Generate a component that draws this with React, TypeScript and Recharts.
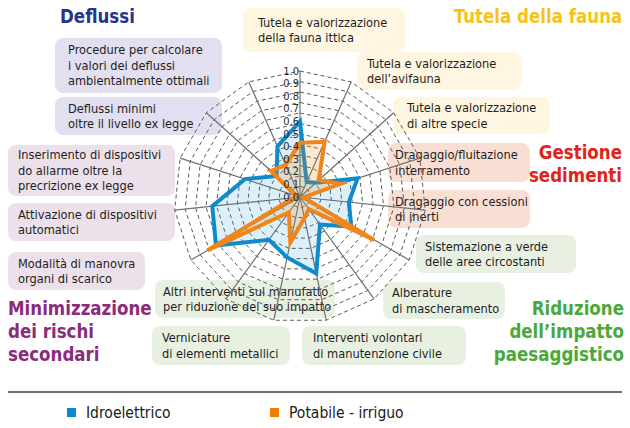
import React from "react";
import { RadarChart, Radar, PolarGrid, PolarAngleAxis, PolarRadiusAxis } from "recharts";

const categories = [
  "Tutela e valorizzazione della fauna ittica",
  "Tutela e valorizzazione dell'avifauna",
  "Tutela e valorizzazione di altre specie",
  "Dragaggio/fluitazione interramento",
  "Dragaggio con cessioni di inerti",
  "Sistemazione a verde delle aree circostanti",
  "Alberature di mascheramento",
  "Interventi volontari di manutenzione civile",
  "Verniciature di elementi metallici",
  "Altri interventi sul manufatto per riduzione del suo impatto",
  "Modalità di manovra organi di scarico",
  "Attivazione di dispositivi automatici",
  "Inserimento di dispositivi do allarme oltre la precrizione ex legge",
  "Deflussi minimi oltre il livello ex legge",
  "Procedure per calcolare i valori dei deflussi ambientalmente ottimali",
];

const idroelettrico = [0.6, 0.13, 0.17, 0.48, 0.39, 0.47, 0.27, 0.62, 0.49, 0.42, 0.77, 0.7, 0.46, 0.25, 0.44];
const potabileIrriguo = [0.43, 0.48, 0.2, 0.34, 0.03, 0.68, 0.12, 0.17, 0.37, 0.15, 0.85, 0.05, 0.04, 0.31, 0.28];

const radiusTicks = [0, 0.1, 0.2, 0.3, 0.4, 0.5, 0.6, 0.7, 0.8, 0.9, 1.0];

const seriesNames = ["Idroelettrico", "Potabile - irriguo"];

const FONT = "'Liberation Sans Narrow', 'DejaVu Sans Condensed', Roboto, sans-serif";
const BLUE = "#0d8bca";
const ORANGE = "#f0851a";

const YELLOW_BOX = "#fef6e0";
const PEACH_BOX = "#f9dfd3";
const GREEN_BOX = "#e8f1e1";
const PINK_BOX = "#ece1ea";
const PURPLE_BOX = "#e2dff0";

// label boxes around the radar (text lines + layout)
const boxes = [
  { lines: ["Tutela e valorizzazione", "della fauna ittica"], x: 243, y: 8, w: 162, h: 44, bg: YELLOW_BOX, pl: 15 },
  { lines: ["Tutela e valorizzazione", "dell\u2019avifauna"], x: 357, y: 52, w: 165, h: 38, bg: YELLOW_BOX, pl: 10 },
  { lines: ["Tutela e valorizzazione", "di altre specie"], x: 393, y: 97, w: 157, h: 37, bg: YELLOW_BOX, pl: 14 },
  { lines: ["Dragaggio/fluitazione", "interramento"], x: 388, y: 143, w: 142, h: 39, bg: PEACH_BOX, pl: 7 },
  { lines: ["Dragaggio con cessioni", "di inerti"], x: 388, y: 190, w: 142, h: 38, bg: PEACH_BOX, pl: 7 },
  { lines: ["Sistemazione a verde", "delle aree circostanti"], x: 416, y: 235, w: 160, h: 38, bg: GREEN_BOX, pl: 9 },
  { lines: ["Alberature", "di mascheramento"], x: 383, y: 282, w: 122, h: 37, bg: GREEN_BOX, pl: 9 },
  { lines: ["Interventi volontari", "di manutenzione civile"], x: 302, y: 326, w: 164, h: 39, bg: GREEN_BOX, pl: 11 },
  { lines: ["Verniciature", "di elementi metallici"], x: 152, y: 326, w: 138, h: 39, bg: GREEN_BOX, pl: 10 },
  { lines: ["Altri interventi sul manufatto", "per riduzione del suo impatto"], x: 155, y: 280, w: 180, h: 38, bg: GREEN_BOX, pl: 8 },
  { lines: ["Modalità di manovra", "organi di scarico"], x: 8, y: 252, w: 137, h: 38, bg: PINK_BOX, pl: 10 },
  { lines: ["Attivazione di dispositivi", "automatici"], x: 8, y: 203, w: 167, h: 38, bg: PINK_BOX, pl: 10 },
  { lines: ["Inserimento di dispositivi", "do allarme oltre la", "precrizione ex legge"], x: 8, y: 145, w: 167, h: 51, bg: PINK_BOX, pl: 10 },
  { lines: ["Deflussi minimi", "oltre il livello ex legge"], x: 55, y: 97, w: 167, h: 38, bg: PURPLE_BOX, pl: 13 },
  { lines: ["Procedure per calcolare", "i valori dei deflussi", "ambientalmente ottimali"], x: 55, y: 38, w: 167, h: 55, bg: PURPLE_BOX, pl: 13 },
];

const titles = [
  { lines: ["Deflussi"], left: 60, top: 5, color: "#27348b", align: "left" },
  { lines: ["Tutela della fauna"], right: 8, top: 5, color: "#f7c31a", align: "right" },
  { lines: ["Gestione", "sedimenti"], right: 8, top: 141, color: "#e2231a", align: "right" },
  { lines: ["Minimizzazione", "dei rischi", "secondari"], left: 8, top: 297, color: "#8b2b79", align: "left" },
  { lines: ["Riduzione", "dell\u2019impatto", "paesaggistico"], right: 6, top: 297, color: "#4ba83a", align: "right" },
];

const data = categories.map((c, i) => ({
  cat: c,
  idro: idroelettrico[i],
  pot: potabileIrriguo[i],
}));

const outerR = 126;
const rings = Array.from({ length: 12 }, (_, i) => ((i + 1) * outerR) / 12);

const RadiusTick = (props: any) => {
  const { x, y, payload } = props;
  return (
    <text x={x - 1} y={y} textAnchor="end" dominantBaseline="central" fontSize={11} fill="#2a2a2a" fontFamily={FONT}>
      {Number(payload.value).toFixed(1)}
    </text>
  );
};

export default function App() {
  return (
    <div style={{ position: "absolute", left: 0, top: 0, width: 630, height: 428, background: "#fff", fontFamily: FONT, overflow: "hidden" }}>
      {boxes.map((b, i) => (
        <div
          key={i}
          style={{
            position: "absolute",
            left: b.x,
            top: b.y,
            width: b.w,
            height: b.h,
            background: b.bg,
            borderRadius: 8,
            paddingLeft: b.pl,
            boxSizing: "border-box",
            display: "flex",
            flexDirection: "column",
            justifyContent: "center",
            fontSize: 12.7,
            lineHeight: "15.5px",
            color: "#1e1e1e",
            whiteSpace: "nowrap",
          }}
        >
          {b.lines.map((l, j) => (
            <div key={j}>{l}</div>
          ))}
        </div>
      ))}

      {titles.map((t, i) => (
        <div
          key={i}
          style={{
            position: "absolute",
            left: t.left,
            right: t.right,
            top: t.top,
            color: t.color,
            fontWeight: 700,
            fontSize: 19.5,
            lineHeight: "23px",
            textAlign: t.align as any,
            whiteSpace: "nowrap",
            transform: "scaleX(0.95)",
            transformOrigin: t.align === "right" ? "right top" : "left top",
          }}
        >
          {t.lines.map((l, j) => (
            <div key={j}>{l}</div>
          ))}
        </div>
      ))}

      <div style={{ position: "absolute", left: 0, top: 0 }}>
        <RadarChart width={630} height={428} data={data} cx={300} cy={197} outerRadius={outerR} margin={{ top: 0, right: 0, bottom: 0, left: 0 }}>
          <PolarGrid gridType="polygon" radialLines={false} polarRadius={rings} stroke="#5a5a5a" strokeDasharray="4 3" strokeWidth={1} />
          <PolarGrid gridType="polygon" polarRadius={[]} stroke="#707070" strokeWidth={1.2} />
          <PolarAngleAxis dataKey="cat" tick={false} axisLine={false} tickLine={false} />
          <Radar
            name={seriesNames[0]}
            dataKey="idro"
            stroke={BLUE}
            strokeWidth={4}
            fill={BLUE}
            fillOpacity={0.14}
            dot={false}
            isAnimationActive={false}
          />
          <Radar
            name={seriesNames[1]}
            dataKey="pot"
            stroke={ORANGE}
            strokeWidth={4}
            fill={ORANGE}
            fillOpacity={0.2}
            dot={false}
            isAnimationActive={false}
          />
          <PolarRadiusAxis
            angle={90}
            domain={[0, 0.94]}
            ticks={radiusTicks}
            allowDataOverflow
            tick={<RadiusTick />}
            axisLine={false}
            tickLine={false}
          />
        </RadarChart>
      </div>

      <div style={{ position: "absolute", left: 8, top: 391, width: 614, height: 2, background: "#6e6e6e" }} />

      <div style={{ position: "absolute", left: 67, top: 408, width: 9, height: 9, background: "#0a8bc9" }} />
      <div style={{ position: "absolute", left: 86, top: 402, fontSize: 15.5, lineHeight: "22px", color: "#1a1a1a" }}>{seriesNames[0]}</div>
      <div style={{ position: "absolute", left: 270, top: 408, width: 9, height: 9, background: "#f07e00" }} />
      <div style={{ position: "absolute", left: 289, top: 402, fontSize: 15.5, lineHeight: "22px", color: "#1a1a1a" }}>{seriesNames[1]}</div>
    </div>
  );
}
